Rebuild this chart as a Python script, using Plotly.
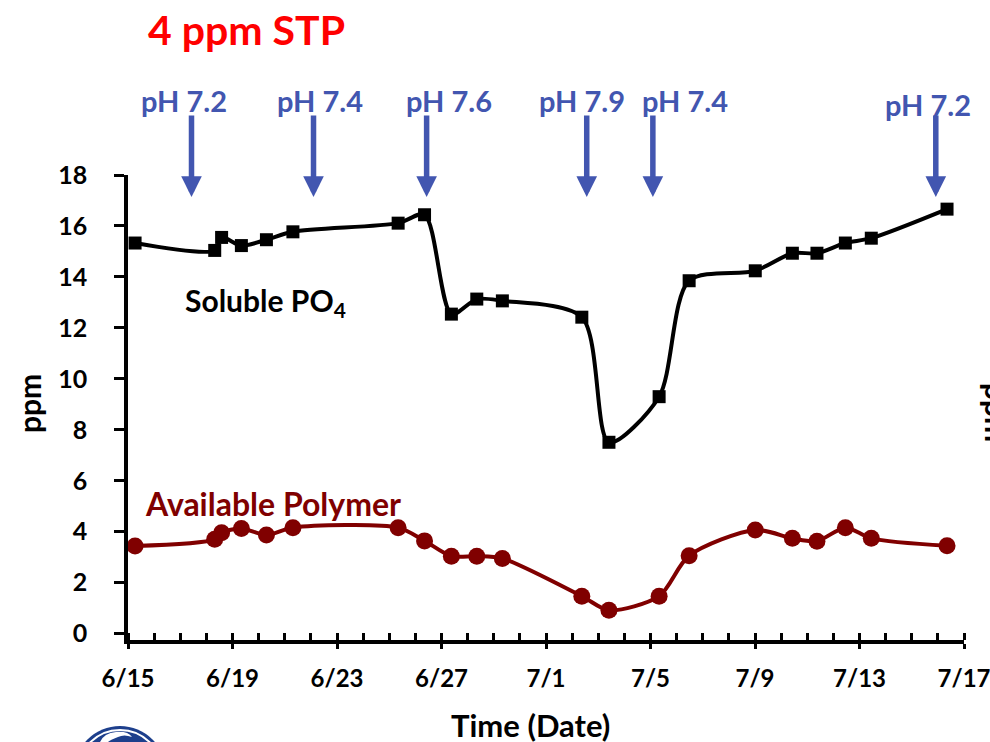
import plotly.graph_objects as go

# ---------------- data ----------------
sample_times = [
    "2010-06-15 06:30", "2010-06-18 07:40", "2010-06-18 14:00", "2010-06-19 08:10",
    "2010-06-20 07:10", "2010-06-21 07:30", "2010-06-25 08:10", "2010-06-26 08:25",
    "2010-06-27 09:05", "2010-06-28 08:25", "2010-06-29 07:55", "2010-07-02 08:55",
    "2010-07-03 09:50", "2010-07-05 07:55", "2010-07-06 11:30", "2010-07-09 00:15",
    "2010-07-10 10:20", "2010-07-11 08:55", "2010-07-12 11:00", "2010-07-13 10:50",
    "2010-07-16 08:25",
]
soluble_po4 = [15.33, 15.04, 15.55, 15.23, 15.46, 15.77, 16.11, 16.44, 12.54, 13.13,
               13.06, 12.42, 7.51, 9.30, 13.85, 14.24, 14.93, 14.93, 15.33, 15.52, 16.66]
available_polymer = [3.44, 3.70, 3.96, 4.13, 3.87, 4.16, 4.16, 3.64, 3.04, 3.04,
                     2.95, 1.47, 0.92, 1.47, 3.06, 4.07, 3.74, 3.63, 4.16, 3.74, 3.45]

ph_change_times = ["2010-06-17 10:20", "2010-06-22 02:25", "2010-06-26 10:20",
                   "2010-07-02 13:25", "2010-07-05 02:10", "2010-07-15 22:05"]
ph_labels = ["pH 7.2", "pH 7.4", "pH 7.6", "pH 7.9", "pH 7.4", "pH 7.2"]

x_tick_vals = ["2010-06-15", "2010-06-19", "2010-06-23", "2010-06-27", "2010-07-01",
               "2010-07-05", "2010-07-09", "2010-07-13", "2010-07-17"]
x_tick_text = ["6/15", "6/19", "6/23", "6/27", "7/1", "7/5", "7/9", "7/13", "7/17"]
x_minor_vals = [f"2010-06-{d:02d}" for d in range(15, 31)] + [f"2010-07-{d:02d}" for d in range(1, 18)]
y_tick_vals = [0, 2, 4, 6, 8, 10, 12, 14, 16, 18]

# ---------------- styling ----------------
FONT = "Lato, Calibri, Arial, sans-serif"
BLUE = "#4256B0"
MAROON = "#800000"

L, R, T, B = 128, 26, 175, 102
W, H = 990, 742
PW, PH = W - L - R, H - T - B


def px(x):
    return (x - L) / PW


def py(y):
    return (H - B - y) / PH


fig = go.Figure()
fig.add_trace(go.Scatter(
    x=sample_times, y=soluble_po4, mode="lines+markers", name="Soluble PO4",
    line=dict(color="black", width=4, shape="spline", smoothing=0.8),
    marker=dict(symbol="square", size=13, color="black"),
))
fig.add_trace(go.Scatter(
    x=sample_times, y=available_polymer, mode="lines+markers", name="Available Polymer",
    line=dict(color=MAROON, width=4, shape="spline", smoothing=0.8),
    marker=dict(symbol="circle", size=17, color=MAROON),
))

annotations = []
annotations.append(dict(text="4 ppm STP", x=px(246), y=py(29), xref="paper", yref="paper",
                        showarrow=False, xanchor="center", yanchor="middle",
                        font=dict(family=FONT, size=41, color="#FF0000", weight="bold")))
label_px = [(184, 101), (319.5, 101), (449, 101), (581.7, 101), (684.7, 101), (928, 104)]
for (lx, ly), lab in zip(label_px, ph_labels):
    annotations.append(dict(text=lab, x=px(lx), y=py(ly), xref="paper", yref="paper",
                            showarrow=False, xanchor="center", yanchor="middle",
                            font=dict(family=FONT, size=29, color=BLUE, weight="bold")))
for t in ph_change_times:
    annotations.append(dict(text="", x=t, y=17.14, xref="x", yref="y", showarrow=True,
                            ax=0, ay=-83, arrowhead=2, arrowsize=0.75, arrowwidth=5.5,
                            arrowcolor=BLUE))
annotations.append(dict(text="Soluble PO<sub>4</sub>", x=px(183), y=py(302), xref="paper",
                        yref="paper", showarrow=False, xanchor="left", yanchor="middle",
                        font=dict(family=FONT, size=30, color="black", weight="bold")))
annotations.append(dict(text="Available Polymer", x=px(143), y=py(503), xref="paper",
                        yref="paper", showarrow=False, xanchor="left", yanchor="middle",
                        font=dict(family=FONT, size=32, color=MAROON, weight="bold")))
annotations.append(dict(text="ppm", x=px(29), y=py(404), xref="paper", yref="paper",
                        showarrow=False, textangle=-90, xanchor="center", yanchor="middle",
                        font=dict(family=FONT, size=30, color="black", weight="bold")))
annotations.append(dict(text="ppm", x=px(977), y=py(412), xref="paper", yref="paper",
                        showarrow=False, textangle=90, xanchor="left", yanchor="middle",
                        font=dict(family=FONT, size=30, color="black", weight="bold")))
annotations.append(dict(text="Time (Date)", x=px(530), y=py(725), xref="paper", yref="paper",
                        showarrow=False, xanchor="center", yanchor="middle",
                        font=dict(family=FONT, size=31, color="black", weight="bold")))

# logo (partially visible, bottom-left)
cx, cy, r = 120, 772, 46
shapes = [
    dict(type="circle", xref="paper", yref="paper", x0=px(cx - r), x1=px(cx + r),
         y0=py(cy + r), y1=py(cy - r), fillcolor="#1D3F8C", line=dict(width=0)),
    dict(type="circle", xref="paper", yref="paper", x0=px(cx - r + 4), x1=px(cx + r - 4),
         y0=py(cy + r - 4), y1=py(cy - r + 4), fillcolor="#1D3F8C",
         line=dict(color="white", width=2)),
    dict(type="path", xref="paper", yref="paper",
         path=(f"M {px(100)},{py(742)} Q {px(104)},{py(733)} {px(116)},{py(732)} "
               f"Q {px(128)},{py(731)} {px(132)},{py(737)} Q {px(124)},{py(734)} {px(118)},{py(737)} "
               f"Q {px(110)},{py(740)} {px(108)},{py(742)} Z"),
         fillcolor="white", line=dict(width=0)),
]

fig.update_layout(
    width=W, height=H,
    margin=dict(l=L, r=R, t=T, b=B, pad=0),
    paper_bgcolor="white", plot_bgcolor="white",
    showlegend=False,
    font=dict(family=FONT, color="black"),
    xaxis=dict(type="date", range=["2010-06-15", "2010-07-17"], automargin=False,
               tickvals=x_tick_vals, ticktext=x_tick_text, ticklabeloverflow="allow",
               ticks="outside", ticklen=5, tickwidth=3, tickcolor="black",
               minor=dict(tickvals=x_minor_vals, ticks="inside", ticklen=7,
                          tickwidth=2.5, tickcolor="black", showgrid=False),
               showline=True, linewidth=3.5, linecolor="black",
               showgrid=False, zeroline=False, ticklabelstandoff=9,
               tickfont=dict(family=FONT, size=24, color="black", weight="bold")),
    yaxis=dict(range=[-0.25, 18], tickvals=y_tick_vals, automargin=False,
               ticks="outside", ticklen=10, tickwidth=3, tickcolor="black",
               showline=True, linewidth=3.5, linecolor="black",
               showgrid=False, zeroline=False, ticklabelstandoff=22,
               tickfont=dict(family=FONT, size=25, color="black", weight="bold")),
    annotations=annotations,
    shapes=shapes,
)

fig.write_html("out.html")
